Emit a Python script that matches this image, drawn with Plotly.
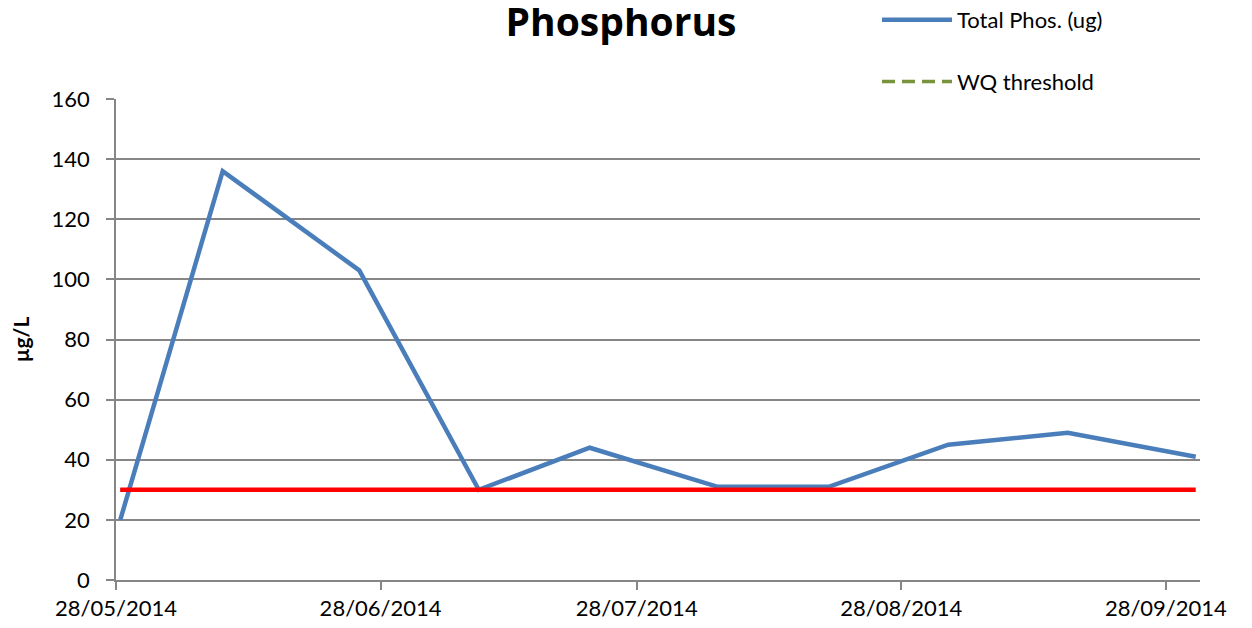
import plotly.graph_objects as go

# ---- data ----
sample_dates = ["2014-05-28", "2014-06-09", "2014-06-25", "2014-07-09", "2014-07-22",
                "2014-08-06", "2014-08-19", "2014-09-02", "2014-09-16", "2014-10-01"]
total_phos = [20, 136, 103, 30, 44, 31, 31, 45, 49, 41]
wq_threshold = [30, 30, 30, 30, 30, 30, 30, 30, 30, 30]

x_tick_dates = ["2014-05-28", "2014-06-28", "2014-07-28", "2014-08-28", "2014-09-28"]
x_tick_labels = ["28/05/2014", "28/06/2014", "28/07/2014", "28/08/2014", "28/09/2014"]
y_ticks = [0, 20, 40, 60, 80, 100, 120, 140, 160]
x_range = ["2014-05-28", "2014-10-02"]

FONT = "Lato"
GRID = "#868686"
DAY_MS = 86400000
W, H = 1244, 620  # page body has an 8px margin
ML, MR, MT, MB = 108, 52, 91, 48
PW, PH = W - ML - MR, H - MT - MB

fig = go.Figure()

fig.add_trace(go.Scatter(
    x=sample_dates, y=total_phos, mode="lines", name="Total Phos. (ug)",
    line=dict(color="#4A7EBB", width=4.5), legendgroup="a",
    xperiod=DAY_MS, xperiodalignment="middle",
))
fig.add_trace(go.Scatter(
    x=sample_dates, y=wq_threshold, mode="lines", name="WQ threshold",
    line=dict(color="#77933C", width=3.5, dash="13px,7px"), legendgroup="b",
    xperiod=DAY_MS, xperiodalignment="middle",
))
fig.add_trace(go.Scatter(
    x=sample_dates, y=wq_threshold, mode="lines", name="threshold line",
    line=dict(color="#FF0000", width=4.5), showlegend=False, hoverinfo="skip",
    xperiod=DAY_MS, xperiodalignment="middle",
))

fig.update_layout(
    width=W, height=H,
    margin=dict(l=ML, r=MR, t=MT, b=MB, autoexpand=False),
    paper_bgcolor="white", plot_bgcolor="white",
    font=dict(family=FONT, size=22, color="black"),
    title=dict(text="<b>Phosphorus</b>", x=613 / W, xanchor="center",
               y=1 - 14 / H, yanchor="middle", xref="container", yref="container",
               font=dict(family="Open Sans", size=39, color="black")),
    legend=dict(x=(869 - ML) / PW, y=1 + (MT + 9) / PH, xref="paper", yref="paper",
                xanchor="left", yanchor="top", tracegroupgap=30,
                font=dict(family=FONT, size=22), itemwidth=70,
                bgcolor="rgba(0,0,0,0)"),
    showlegend=True,
)

fig.update_xaxes(
    type="date", range=x_range, tickmode="array", tickvals=x_tick_dates,
    ticktext=x_tick_labels, showgrid=False, showline=True, linecolor=GRID,
    linewidth=1.5, ticks="outside", ticklen=8, tickcolor=GRID, tickwidth=1.5,
    tickfont=dict(family=FONT, size=22), zeroline=False,
)
fig.update_yaxes(
    range=[0, 160], tickmode="array", tickvals=y_ticks, showgrid=True,
    gridcolor=GRID, gridwidth=1.5, showline=True, linecolor=GRID, linewidth=1.5,
    ticks="outside", ticklen=8, tickcolor=GRID, tickwidth=1.5,
    tickfont=dict(family=FONT, size=22), zeroline=False, ticklabelstandoff=12,
    title=dict(text="<b>µg/L</b>", font=dict(family=FONT, size=21), standoff=28),
)

fig.write_html("out.html")
